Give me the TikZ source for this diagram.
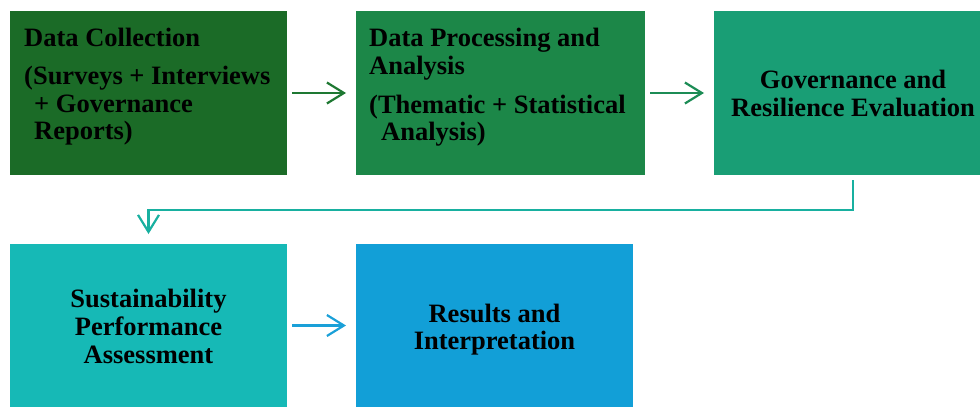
\documentclass[tikz,border=0pt]{standalone}
\usepackage{fontspec}
\setmainfont{Liberation Serif}
\usetikzlibrary{arrows.meta}
\definecolor{cA}{HTML}{1B6B27}
\definecolor{cB}{HTML}{1C8748}
\definecolor{cC}{HTML}{199E75}
\definecolor{cD}{HTML}{16B9B6}
\definecolor{cE}{HTML}{129FD7}
\definecolor{aA}{HTML}{1E7832}
\definecolor{aB}{HTML}{1C8C55}
\definecolor{aC}{HTML}{18B0A0}
\definecolor{aD}{HTML}{1AA0D8}
\begin{document}
\begin{tikzpicture}[x=1pt,y=-1pt,
  box/.style={draw=none, inner sep=0pt, outer sep=0pt, anchor=north west},
  txt/.style={font=\bfseries\fontsize{26.5}{27.8}\selectfont, inner sep=0pt, text=black},
  arr/.style={line width=2.2pt, -{Straight Barb[length=17pt,width=21pt]}}]
\useasboundingbox (0,0) rectangle (980,407);
% boxes
\node[box, fill=cA, minimum width=277pt, minimum height=164pt] (b1) at (10,11) {};
\node[box, fill=cB, minimum width=289pt, minimum height=164pt] (b2) at (356,11) {};
\node[box, fill=cC, minimum width=278pt, minimum height=164pt] (b3) at (714,11) {};
\node[box, fill=cD, minimum width=277pt, minimum height=163pt] (b4) at (10,244) {};
\node[box, fill=cE, minimum width=277pt, minimum height=163pt] (b5) at (356,244) {};
% texts
\node[txt, anchor=north west, align=left] (t1) at (24,28)
  {Data Collection\\[10pt](Surveys + Interviews\\\hspace*{10pt}+ Governance\\\hspace*{10pt}Reports)};
\node[txt, anchor=north west, align=left] (t2) at (369,28)
  {Data Processing and\\Analysis\\[11pt](Thematic + Statistical\\\hspace*{12pt}Analysis)};
\node[txt, anchor=north, align=center] (t3) at (853,70)
  {Governance and\\Resilience Evaluation};
\node[txt, anchor=north, align=center] (t4) at (148.5,289)
  {Sustainability\\Performance\\Assessment};
\node[txt, anchor=north, align=center] (t5) at (494.5,303.5)
  {Results and\\Interpretation};
% connectors
\draw[arr, aA] ([xshift=5pt]b1.east) -- ([xshift=-10pt]b2.west);
\draw[arr, aB] ([xshift=5pt]b2.east) -- ([xshift=-10pt]b3.west);
\draw[arr, aC] ([yshift=-5pt]b3.south) -- ++(0,30) -| ([yshift=10pt]b4.north);
\draw[arr, aD] ([xshift=5pt]b4.east) -- ([xshift=-10pt]b5.west);
\end{tikzpicture}
\end{document}
